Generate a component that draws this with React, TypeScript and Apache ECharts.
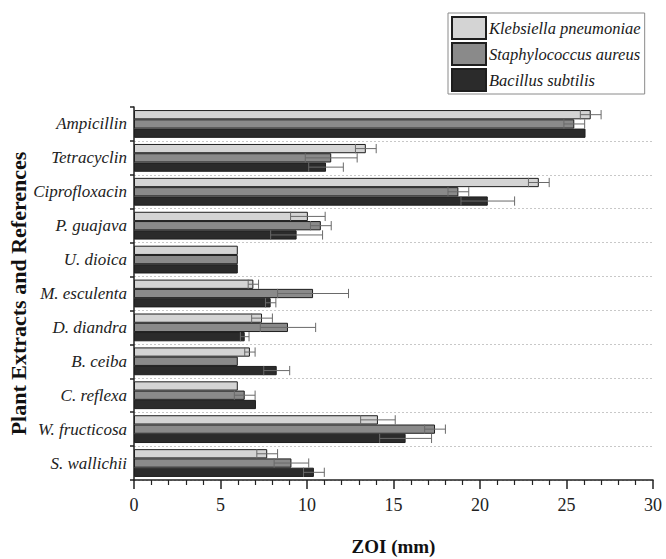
import React, { useEffect, useRef } from "react";
import * as echarts from "echarts";

const categories = [
  "Ampicillin",
  "Tetracyclin",
  "Ciprofloxacin",
  "P. guajava",
  "U. dioica",
  "M. esculenta",
  "D. diandra",
  "B. ceiba",
  "C. reflexa",
  "W. fructicosa",
  "S. wallichii",
];
const seriesNames = ["Klebsiella pneumoniae", "Staphylococcus aureus", "Bacillus subtilis"];
const klebsiella = [26.4, 13.4, 23.4, 10.05, 6.0, 6.9, 7.4, 6.7, 6.0, 14.1, 7.7];
const klebsiellaSd = [0.6, 0.6, 0.6, 1.0, 0, 0.3, 0.6, 0.3, 0, 1.0, 0.6];
const staphylococcus = [25.45, 11.4, 18.75, 10.8, 6.0, 10.35, 8.9, 6.0, 6.4, 17.4, 9.1];
const staphylococcusSd = [0.6, 1.5, 0.6, 0.6, 0, 2.05, 1.6, 0, 0.6, 0.6, 1.0];
const bacillus = [26.1, 11.1, 20.45, 9.4, 6.0, 7.9, 6.4, 8.25, 7.05, 15.7, 10.4];
const bacillusSd = [0, 1.0, 1.55, 1.5, 0, 0.3, 0.25, 0.75, 0, 1.5, 0.6];
const xTicks = [0, 5, 10, 15, 20, 25, 30];

const colors = ["#d4d4d4", "#8a8a8a", "#2b2b2b"];
const FONT = "'Liberation Serif', 'Times New Roman', serif";
const CAT_GAP = 0.18;

export default function App() {
  const ref = useRef<HTMLDivElement>(null);
  useEffect(() => {
    if (!ref.current) return;
    const chart = echarts.init(ref.current, null, { renderer: "svg" });
    const means = [klebsiella, staphylococcus, bacillus];
    const sds = [klebsiellaSd, staphylococcusSd, bacillusSd];

    const barSeries = means.map((vals, i) => ({
      name: seriesNames[i],
      type: "bar",
      data: vals,
      barGap: "0%",
      barCategoryGap: CAT_GAP * 100 + "%",
      itemStyle: { color: colors[i], borderColor: "#1e1e1e", borderWidth: 1 },
      z: 2,
    }));

    const errSeries = means.map((vals, i) => ({
      type: "custom",
      name: "err" + i,
      z: 5,
      encode: { x: [1, 2], y: 0 },
      data: vals
        .map((v, k) => [k, v - sds[i][k], v + sds[i][k]])
        .filter((d) => d[2] - d[1] > 0),
      renderItem: (params: any, api: any) => {
        const cat = api.value(0);
        const lo = api.coord([api.value(1), cat]);
        const hi = api.coord([api.value(2), cat]);
        const band = api.size([0, 1])[1];
        const area = band * (1 - CAT_GAP);
        const bw = area / 3;
        const y = lo[1] - area / 2 + bw * (i + 0.5);
        const cap = bw * 0.5;
        const style = { stroke: "#6a6a6a", lineWidth: 1 };
        return {
          type: "group",
          children: [
            { type: "line", shape: { x1: lo[0], y1: y, x2: hi[0], y2: y }, style },
            { type: "line", shape: { x1: lo[0], y1: y - cap, x2: lo[0], y2: y + cap }, style },
            { type: "line", shape: { x1: hi[0], y1: y - cap, x2: hi[0], y2: y + cap }, style },
          ],
        };
      },
    }));

    chart.setOption({
      animation: false,
      textStyle: { fontFamily: FONT },
      legend: {
        data: seriesNames,
        orient: "vertical",
        left: 448,
        top: 13,
        icon: "rect",
        itemWidth: 34,
        itemHeight: 22,
        itemGap: 2,
        padding: [3, 4, 2, 3],
        borderColor: "#8a8a8a",
        borderWidth: 1,
        textStyle: { fontFamily: FONT, fontSize: 16.5, fontStyle: "italic", color: "#1a1a1a", padding: [0, 0, 0, -2] },
      },
      grid: {
        left: 134,
        right: 13,
        top: 107,
        bottom: 79,
        containLabel: false,
        outerBoundsMode: "none",
      },
      xAxis: {
        type: "value",
        min: xTicks[0],
        max: xTicks[xTicks.length - 1],
        interval: 5,
        name: "ZOI (mm)",
        nameLocation: "middle",
        nameGap: 57,
        nameMoveOverlap: false,
        nameTextStyle: { fontFamily: FONT, fontSize: 19, fontWeight: "bold", color: "#111" },
        axisLine: { show: true, lineStyle: { color: "#222", width: 1.5 } },
        axisTick: { show: true, length: 9, lineStyle: { color: "#222", width: 1.5 } },
        minorTick: { show: true, splitNumber: 5, length: 5, lineStyle: { color: "#222", width: 1.2 } },
        axisLabel: { fontFamily: FONT, fontSize: 18, color: "#222", margin: 16 },
        splitLine: { show: false },
      },
      yAxis: {
        type: "category",
        data: categories,
        inverse: true,
        name: "Plant Extracts and References",
        nameLocation: "middle",
        nameGap: 105,
        nameMoveOverlap: false,
        nameTextStyle: { fontFamily: FONT, fontSize: 22, fontWeight: "bold", color: "#111" },
        axisLine: { show: true, lineStyle: { color: "#222", width: 1.5 } },
        axisTick: { show: true, length: 4, lineStyle: { color: "#222", width: 1.5 } },
        axisLabel: { fontFamily: FONT, fontSize: 17, fontStyle: "italic", color: "#222", margin: 7 },
        splitLine: {
          show: true,
          interval: (idx: number) => idx !== 0,
          lineStyle: { color: "#c8c8c8", type: [2, 2], width: 1 },
        },
      },
      series: [...barSeries, ...errSeries],
    });
    return () => chart.dispose();
  }, []);
  return (
    <div
      ref={ref}
      style={{ position: "absolute", left: 0, top: 0, width: 666, height: 559 }}
    />
  );
}
